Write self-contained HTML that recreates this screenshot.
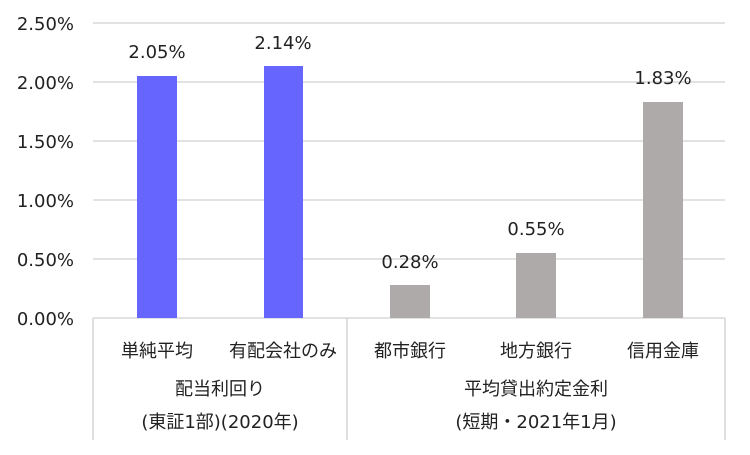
<!DOCTYPE html><html><head><meta charset="utf-8"><style>body{margin:0;background:#fff}</style></head><body>
<svg width="750" height="450" xmlns="http://www.w3.org/2000/svg" font-family="DejaVu Sans, Noto Sans CJK JP, sans-serif" font-size="18" fill="#222">
<g stroke="#d0d0d0" stroke-width="1.3">
<line x1="93" x2="725" y1="23" y2="23"/><line x1="93" x2="725" y1="82" y2="82"/><line x1="93" x2="725" y1="141" y2="141"/><line x1="93" x2="725" y1="200" y2="200"/><line x1="93" x2="725" y1="259" y2="259"/>
<line x1="93" x2="725" y1="318" y2="318"/>
<line x1="93" x2="93" y1="318" y2="440"/><line x1="347" x2="347" y1="318" y2="440"/><line x1="725" x2="725" y1="318" y2="440"/>
</g>
<g text-anchor="end"><text x="74" y="30">2.50%</text><text x="74" y="89">2.00%</text><text x="74" y="148">1.50%</text><text x="74" y="207">1.00%</text><text x="74" y="266">0.50%</text><text x="74" y="325">0.00%</text></g>
<rect x="137" y="76" width="40" height="242" fill="#6666ff"/>
<rect x="264" y="66" width="39" height="252" fill="#6666ff"/>
<rect x="390" y="285" width="40" height="33" fill="#aeaaaa"/>
<rect x="516" y="253" width="40" height="65" fill="#aeaaaa"/>
<rect x="643" y="102" width="40" height="216" fill="#aeaaaa"/>
<g text-anchor="middle"><text x="157" y="58">2.05%</text><text x="283" y="49">2.14%</text><text x="410" y="268">0.28%</text><text x="536" y="235">0.55%</text><text x="663" y="84">1.83%</text>
<text x="157" y="357">単純平均</text><text x="283" y="357">有配会社のみ</text><text x="410" y="357">都市銀行</text><text x="536" y="357">地方銀行</text><text x="663" y="357">信用金庫</text>
<text x="220" y="395">配当利回り</text><text x="220" y="428">(東証1部)(2020年)</text>
<text x="536" y="395">平均貸出約定金利</text><text x="536" y="428">(短期・2021年1月)</text></g>
</svg></body></html>
